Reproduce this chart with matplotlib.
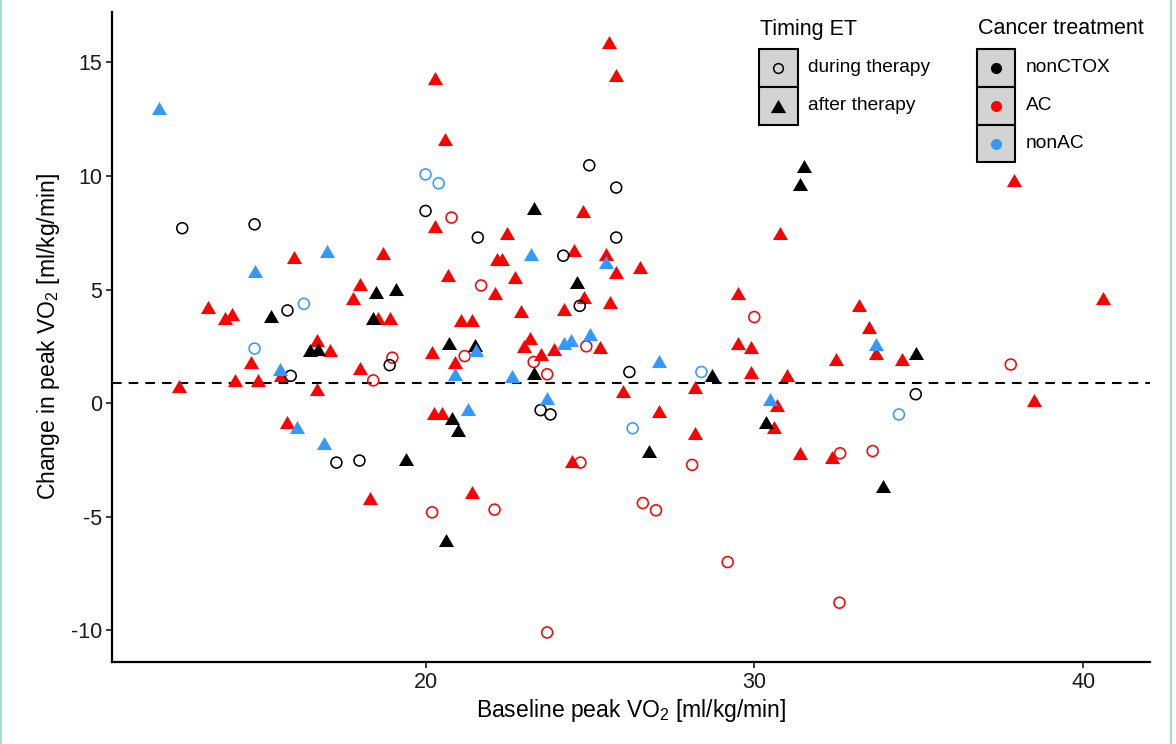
import matplotlib
matplotlib.use("Agg")
import matplotlib.pyplot as plt
from matplotlib.patches import Rectangle
from matplotlib.lines import Line2D

plt.rcParams["font.family"] = ["Liberation Sans", "DejaVu Sans"]
plt.rcParams["mathtext.default"] = "regular"
plt.rcParams["axes.unicode_minus"] = False

# Baseline peak VO2 (x) und change in peak VO2 (y), per group
nonctox_during_x = [12.60, 14.80, 24.98, 25.80, 20.00, 21.59, 25.80, 24.19, 24.69, 15.80,
                    15.90, 18.91, 26.20, 23.50, 23.80, 17.29, 17.99, 34.91]
nonctox_during_y = [7.70, 7.87, 10.47, 9.49, 8.46, 7.29, 7.29, 6.49, 4.28, 4.08,
                    1.20, 1.67, 1.37, -0.31, -0.50, -2.62, -2.53, 0.39]

nonctox_after_x = [23.29, 31.50, 31.40, 18.48, 15.29, 18.40, 16.50, 16.73, 24.61, 19.11,
                   20.71, 21.50, 23.29, 20.79, 20.99, 19.41, 20.61, 28.71, 30.36, 26.81,
                   33.90, 34.91]
nonctox_after_y = [8.61, 10.44, 9.63, 4.88, 3.82, 3.74, 2.32, 2.40, 5.32, 5.03,
                   2.66, 2.54, 1.33, -0.67, -1.18, -2.47, -6.05, 1.23, -0.82, -2.09,
                   -3.67, 2.22]

ac_during_x = [20.79, 21.69, 21.19, 18.99, 18.41, 23.29, 23.70, 24.89, 24.71, 20.20,
               22.10, 23.70, 30.00, 37.80, 28.11, 32.61, 33.60, 26.61, 27.01, 29.19,
               32.59]
ac_during_y = [8.17, 5.18, 2.07, 2.00, 1.00, 1.81, 1.27, 2.50, -2.62, -4.81,
               -4.69, -10.10, 3.79, 1.70, -2.72, -2.21, -2.11, -4.40, -4.72, -7.00,
               -8.79]

ac_after_x = [25.59, 20.30, 25.80, 20.60, 24.79, 20.30, 22.48, 30.79, 37.90, 16.00,
              18.70, 18.00, 17.80, 13.38, 13.89, 14.10, 18.55, 18.91, 16.71, 17.09,
              14.70, 18.00, 15.60, 12.50, 14.19, 14.90, 16.71, 15.80, 18.31, 22.16,
              22.33, 24.51, 25.50, 25.80, 26.51, 20.69, 22.71, 22.10, 24.81, 25.60,
              24.20, 22.89, 21.08, 21.42, 20.20, 20.91, 23.19, 22.99, 23.52, 23.90,
              25.30, 26.00, 20.27, 20.51, 24.46, 21.42, 29.49, 33.19, 33.50, 33.71,
              34.50, 29.49, 29.90, 32.49, 29.90, 30.99, 28.21, 30.69, 27.11, 30.61,
              28.21, 31.40, 32.36, 40.60, 38.51]
ac_after_y = [15.92, 14.31, 14.43, 11.65, 8.46, 7.81, 7.51, 7.51, 9.81, 6.42,
              6.60, 5.25, 4.64, 4.22, 3.76, 3.93, 3.74, 3.74, 2.76, 2.32,
              1.81, 1.55, 1.25, 0.75, 1.01, 1.01, 0.60, -0.82, -4.18, 6.35,
              6.35, 6.74, 6.56, 5.76, 6.01, 5.64, 5.54, 4.84, 4.69, 4.47,
              4.15, 4.05, 3.64, 3.64, 2.25, 1.81, 2.88, 2.50, 2.18, 2.36,
              2.47, 0.54, -0.45, -0.45, -2.57, -3.93, 4.84, 4.34, 3.35, 2.21,
              1.96, 2.65, 2.47, 1.96, 1.37, 1.23, 0.72, -0.09, -0.35, -1.07,
              -1.33, -2.18, -2.38, 4.62, 0.13]

nonac_during_x = [20.00, 20.40, 16.30, 14.80, 28.39, 26.30, 34.40]
nonac_during_y = [10.07, 9.68, 4.37, 2.40, 1.37, -1.11, -0.50]

nonac_after_x = [11.89, 17.01, 14.80, 15.57, 16.10, 16.91, 23.21, 25.50, 21.52, 20.91,
                 22.62, 24.20, 24.43, 24.99, 23.70, 21.30, 27.11, 30.49, 33.71]
nonac_after_y = [13.00, 6.71, 5.83, 1.52, -1.07, -1.77, 6.56, 6.23, 2.32, 1.26,
                 1.18, 2.65, 2.76, 3.06, 0.23, -0.26, 1.84, 0.16, 2.62]

mean_change = 0.88

col_black = "black"
col_red = "#FF0000"
col_blue = "#3399FF"

# ggplot-style equilateral triangle
tri = [(-1, -0.866), (1, -0.866), (0, 0.866), (-1, -0.866)]

W, H = 1176, 744
fig = plt.figure(figsize=(W / 100, H / 100), dpi=100)
ax = fig.add_axes([111.7 / W, 82 / H, (1150 - 111.7) / W, (662 - 12) / H])

ax.axhline(mean_change, color="black", lw=1.5, dashes=(4.6, 3.4), zorder=1)

groups = [
    (ac_during_x, ac_during_y, col_red, "o"),
    (ac_after_x, ac_after_y, col_red, "^"),
    (nonctox_during_x, nonctox_during_y, col_black, "o"),
    (nonctox_after_x, nonctox_after_y, col_black, "^"),
    (nonac_during_x, nonac_during_y, col_blue, "o"),
    (nonac_after_x, nonac_after_y, col_blue, "^"),
]
for gx, gy, c, m in groups:
    if m == "o":
        ax.scatter(gx, gy, s=62, facecolors="none", edgecolors=c, linewidths=1.15, zorder=3)
    else:
        ax.scatter(gx, gy, s=118, marker=tri, color=c, linewidths=0, zorder=3)

# 5% expansion like ggplot
all_x = sum([g[0] for g in groups], [])
all_y = sum([g[1] for g in groups], [])
xr = max(all_x) - min(all_x)
yr = max(all_y) - min(all_y)
ax.set_xlim(min(all_x) - 0.05 * xr, max(all_x) + 0.05 * xr)
ax.set_ylim(min(all_y) - 0.05 * yr, max(all_y) + 0.05 * yr)

ax.set_xticks([20, 30, 40])
ax.set_yticks([-10, -5, 0, 5, 10, 15])
ax.tick_params(labelsize=15.5, length=4, width=1.2, colors="#1a1a1a", pad=3)
for s in ["top", "right"]:
    ax.spines[s].set_visible(False)
for s in ["left", "bottom"]:
    ax.spines[s].set_linewidth(1.6)
ax.set_xlabel("Baseline peak VO$_2$ [ml/kg/min]", fontsize=16.5, labelpad=3)
ax.set_ylabel("Change in peak VO$_2$ [ml/kg/min]", fontsize=16.5, labelpad=6)


def fx(px):
    return px / W


def fy(py):
    return 1 - py / H


def draw_legend(title, x0, labels, markers):
    fig.text(fx(x0 + 1), fy(29), title, fontsize=15.5, va="center", ha="left")
    kw, kh = 38.5, 37.8
    top = 49
    for i, (lab, mk) in enumerate(zip(labels, markers)):
        yt = top + i * kh
        fig.add_artist(Rectangle((fx(x0), fy(yt + kh)), kw / W, kh / H,
                                 transform=fig.transFigure, facecolor="#D3D3D3",
                                 edgecolor="black", lw=1.5))
        cx, cy = fx(x0 + kw / 2), fy(yt + kh / 2)
        fig.add_artist(Line2D([cx], [cy], transform=fig.transFigure, **mk))
        fig.text(fx(x0 + kw + 10), cy, lab, fontsize=13.8, va="center", ha="left")


draw_legend("Timing ET", 759, ["during therapy", "after therapy"], [
    dict(marker="o", ms=7, mfc="none", mec="black", mew=1.1, ls="none"),
    dict(marker=tri, ms=11, mfc="black", mec="none", ls="none"),
])
draw_legend("Cancer treatment", 977, ["nonCTOX", "AC", "nonAC"], [
    dict(marker="o", ms=8, mfc=col_black, mec="none", ls="none"),
    dict(marker="o", ms=8, mfc=col_red, mec="none", ls="none"),
    dict(marker="o", ms=8, mfc=col_blue, mec="none", ls="none"),
])

# thin teal frame edges of the original figure
fig.add_artist(Line2D([0.001, 0.001], [0, 1], transform=fig.transFigure, color="#8fd3d0", lw=1.2))
fig.add_artist(Line2D([0.9955, 0.9955], [0, 1], transform=fig.transFigure, color="#8fd3d0", lw=1.2))

fig.savefig("out.png", dpi=100, facecolor="white")
